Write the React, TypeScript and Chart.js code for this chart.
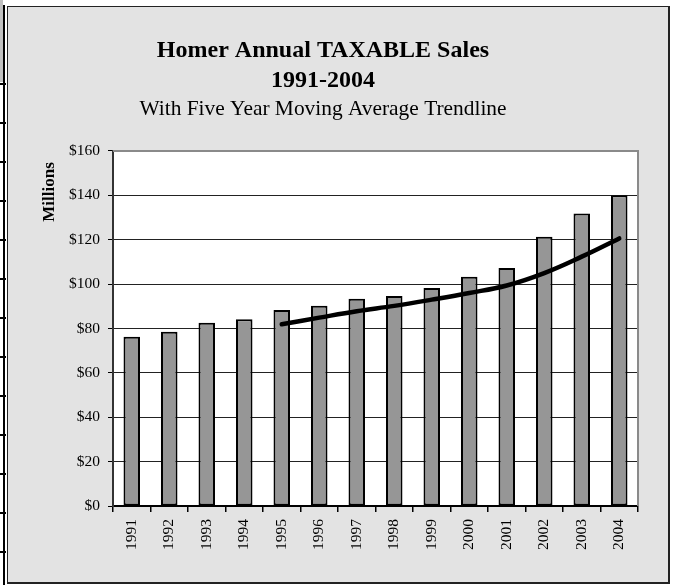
import React, { useEffect, useRef } from "react";
import { Chart, registerables } from "chart.js";

Chart.register(...registerables);

const years = ["1991", "1992", "1993", "1994", "1995", "1996", "1997", "1998", "1999", "2000", "2001", "2002", "2003", "2004"];
const sales = [76.3, 78.5, 82.6, 84.2, 88.3, 90.2, 93.4, 94.7, 98.3, 103.3, 107.3, 121.3, 131.8, 140.1];
const movingAverage = [null, null, null, null, 81.9, 84.9, 87.8, 90.2, 93.0, 96.0, 99.4, 105.0, 112.4, 120.6];
const yMax = 160;
const yStep = 20;
const titleLines = ["Homer Annual TAXABLE Sales", "1991-2004"];
const subtitleText = "With Five Year Moving Average Trendline";
const yAxisTitle = "Millions";

const FONT = "'Liberation Serif', 'Times New Roman', serif";

const plotAreaPlugin = {
  id: "plotArea",
  beforeDraw(chart: any) {
    const { ctx, chartArea: a } = chart;
    ctx.save();
    ctx.fillStyle = "#ffffff";
    ctx.fillRect(a.left, a.top, a.right - a.left, a.bottom - a.top);
    ctx.restore();
  },
  beforeDatasetsDraw(chart: any) {
    const { ctx, chartArea: a } = chart;
    ctx.save();
    ctx.strokeStyle = "#8a8a8a";
    ctx.lineWidth = 2;
    ctx.beginPath();
    ctx.moveTo(a.left, a.top);
    ctx.lineTo(a.right, a.top);
    ctx.lineTo(a.right, a.bottom);
    ctx.stroke();
    ctx.restore();
  },
  afterDraw(chart: any) {
    const { ctx, chartArea: a } = chart;
    ctx.save();
    ctx.translate(a.left - 63, a.top + 41);
    ctx.rotate(-Math.PI / 2);
    ctx.font = `bold 17px ${FONT}`;
    ctx.fillStyle = "#000";
    ctx.textAlign = "center";
    ctx.textBaseline = "middle";
    ctx.fillText(yAxisTitle, 0, 0);
    ctx.restore();
  },
};

function ChartView() {
  const ref = useRef<HTMLCanvasElement | null>(null);
  useEffect(() => {
    if (!ref.current) return;
    const chart = new Chart(ref.current, {
      type: "bar",
      data: {
        labels: years,
        datasets: [
          {
            type: "line",
            label: "5 Yr Moving Average",
            data: movingAverage as any,
            borderColor: "#000",
            borderWidth: 4.5,
            tension: 0.4,
            pointRadius: 0,
            borderCapStyle: "round",
            fill: false,
            order: 0,
          } as any,
          {
            type: "bar",
            label: "Taxable Sales",
            data: sales,
            backgroundColor: "#969696",
            borderColor: "#000",
            borderWidth: 2,
            borderSkipped: false,
            barPercentage: 0.44,
            categoryPercentage: 1,
            order: 1,
          } as any,
        ],
      },
      options: {
        responsive: false,
        animation: false,
        layout: { padding: { left: 0, right: 30, top: 0, bottom: 0 } },
        plugins: {
          legend: { display: false },
          tooltip: { enabled: false },
          title: {
            display: true,
            text: titleLines,
            color: "#000",
            font: { family: FONT, size: 24, weight: "bold", lineHeight: 1.217 },
            padding: { top: 29.5, bottom: 0 },
          },
          subtitle: {
            display: true,
            text: subtitleText,
            color: "#000",
            font: { family: FONT, size: 21.4, weight: "normal", lineHeight: 1.2 },
            padding: { top: 1.5, bottom: 28.9 },
          },
        },
        scales: {
          x: {
            type: "category",
            offset: true,
            grid: {
              offset: true,
              drawOnChartArea: false,
              drawTicks: true,
              tickLength: 6,
              tickColor: "#000",
              lineWidth: 1.5,
            },
            border: { display: true, color: "#000", width: 2 },
            ticks: {
              maxRotation: 90,
              minRotation: 90,
              padding: 7,
              color: "#000",
              font: { family: FONT, size: 15.5 },
            },
            afterFit(scale: any) {
              scale.height = 76;
            },
          },
          y: {
            min: 0,
            max: yMax,
            ticks: {
              stepSize: yStep,
              padding: 8,
              color: "#000",
              font: { family: FONT, size: 15.5 },
              callback: (v: any) => "$" + v,
            },
            grid: {
              color: (c: any) => (c.tick && c.tick.value === yMax ? "rgba(0,0,0,0)" : "#222"),
              lineWidth: 1,
              tickLength: 5,
              tickColor: "#000",
            },
            border: { display: true, color: "#333", width: 2 },
            afterFit(scale: any) {
              scale.width = 105;
            },
          },
        },
      },
      plugins: [plotAreaPlugin],
    });
    return () => chart.destroy();
  }, []);
  return <canvas ref={ref} width={660} height={575} style={{ display: "block", width: 660, height: 575 }} />;
}

const edgeTicks = [0, 1, 2, 3, 4, 5, 6, 7, 8, 9, 10, 11, 12];

export default function App() {
  return (
    <div style={{ position: "absolute", left: 0, top: 0, width: 681, height: 585, background: "#fff", overflow: "hidden" }}>
      <div style={{ position: "absolute", left: 0, top: 0, width: 3, height: 82, background: "#c0c0c0" }} />
      <div style={{ position: "absolute", left: 3, top: 5, width: 2, height: 580, background: "#000" }} />
      {edgeTicks.map((k) => (
        <div key={k} style={{ position: "absolute", left: 0, top: 83 + 39 * k, width: 6, height: 2, background: "#000" }} />
      ))}
      <div
        style={{
          position: "absolute",
          left: 7,
          top: 6,
          width: 660,
          height: 575,
          background: "#e3e3e3",
          borderLeft: "1px solid #222",
          borderTop: "1px solid #222",
          borderRight: "2px solid #222",
          borderBottom: "2px solid #222",
        }}
      >
        <ChartView />
      </div>
    </div>
  );
}
